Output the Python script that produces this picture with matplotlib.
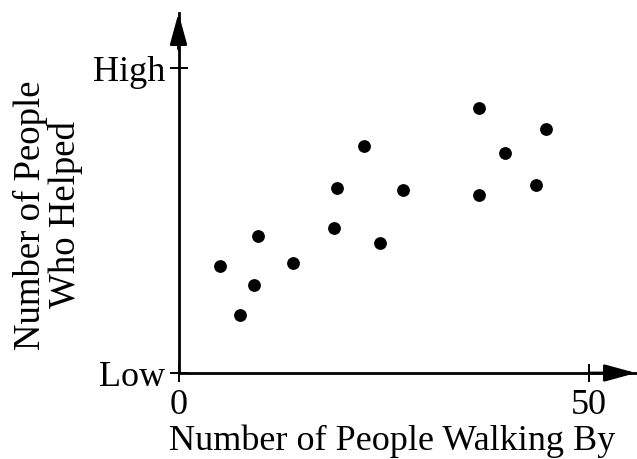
import matplotlib
matplotlib.use("Agg")
import matplotlib.pyplot as plt

# Data (x: people walking by, y: helped on a 0 (Low) – 10 (High) scale)
walking_by = [5.0, 7.5, 9.2, 9.7, 14.0, 19.0, 19.3, 22.6, 24.6, 27.3, 36.6, 36.6, 39.8, 43.6, 44.8]
helped     = [3.5, 1.9, 2.9, 4.5, 3.6, 4.75, 6.05, 7.45, 4.25, 6.0, 8.7, 5.85, 7.2, 6.15, 8.0]
x_ticks = [0, 50]
x_tick_labels = ["0", "50"]
y_ticks = [0, 10]
y_tick_labels = ["Low", "High"]

plt.rcParams['font.family'] = ['Liberation Serif', 'DejaVu Serif']

W, H = 637, 459
fig = plt.figure(figsize=(W/100, H/100), dpi=100)
x0_px, y0_px = 178.5, 373
x_end_px, y_end_px = 636, 13
ax = fig.add_axes([x0_px/W, (H-y0_px)/H, (x_end_px-x0_px)/W, (y0_px-y_end_px)/H])

px_per_x = (589 - 178.5) / 50
px_per_y = (373 - 68) / 10
ax.set_xlim(0, (x_end_px - x0_px) / px_per_x)
ax.set_ylim(0, (y0_px - y_end_px) / px_per_y)

ax.scatter(walking_by, helped, s=85, color='black', zorder=3, linewidths=0)

for s in ['top', 'right']:
    ax.spines[s].set_visible(False)
for s in ['left', 'bottom']:
    ax.spines[s].set_linewidth(2)

ax.set_xticks(x_ticks)
ax.set_xticklabels(x_tick_labels)
ax.set_yticks(y_ticks)
ax.set_yticklabels(y_tick_labels)
ax.tick_params(axis='both', direction='inout', length=13, width=1.4, labelsize=26)
ax.tick_params(axis='y', pad=3)
ax.tick_params(axis='x', pad=5)

arrow = dict(arrowstyle='-|>,head_length=1.9,head_width=0.52', color='black', lw=2,
             shrinkA=0, shrinkB=0)
ax.annotate('', xy=(1, 0), xycoords='axes fraction', xytext=(0.9, 0), arrowprops=arrow,
            annotation_clip=False)
ax.annotate('', xy=(0, 1), xycoords='axes fraction', xytext=(0, 0.9), arrowprops=arrow,
            annotation_clip=False)

fig.text(392/W, 1 - 450/H, "Number of People Walking By", ha='center', va='baseline',
         fontsize=26)
fig.text(47.5/W, 1 - 215/H, "Number of People\nWho Helped", ha='center', va='center',
         rotation=90, fontsize=26.5, linespacing=1.0, multialignment='center')

fig.savefig("out.png", dpi=100)
